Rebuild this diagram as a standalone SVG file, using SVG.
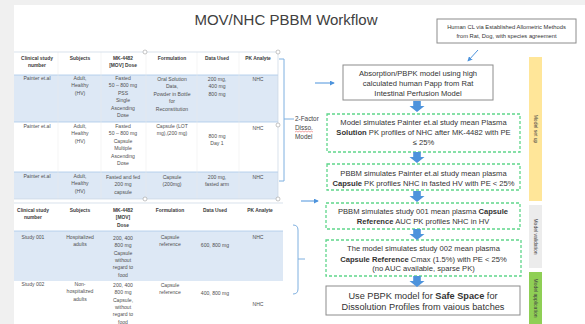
<svg xmlns="http://www.w3.org/2000/svg" width="585" height="324" viewBox="0 0 585 324">
  <style>
    text { font-family: "Liberation Sans", "Noto Sans", Arial, sans-serif; fill: #3a3a3a; }
    .title { font-size: 15px; fill: #404040; }
    .th { font-size: 4.9px; font-weight: bold; text-anchor: middle; fill: #3a3a3a; }
    .td { font-size: 5.1px; text-anchor: middle; fill: #505050; }
    .bx { font-size: 7.6px; text-anchor: middle; fill: #333; }
    .big { font-size: 9.2px; text-anchor: middle; fill: #333; }
    .note { font-size: 5.8px; text-anchor: middle; fill: #333; }
    .side { font-size: 5px; text-anchor: middle; fill: #444; }
    .lbl { font-size: 6.4px; fill: #444; }
    .b { font-weight: bold; }
    .solid { fill: #fff; stroke: #8c8c8c; stroke-width: 1; }
    .dash { fill: #fff; stroke: #5fd68a; stroke-width: 1.3; stroke-dasharray: 3 2; }
    .rowfill { fill: #dde8f5; }
    .rule { stroke: #a9c8e8; stroke-width: 0.8; fill: none; }
    .vrule { stroke: #e8e8e8; stroke-width: 0.5; }
    .frame { stroke: #c8d6e4; stroke-width: 0.7; fill: none; }
    .handle { fill: #fff; stroke: #a0a0a0; stroke-width: 0.6; }
    .bracket { stroke: #7fb0e0; stroke-width: 1; fill: none; }
    .blk { fill: #4d93dc; }
    .thin { stroke: #4d93dc; stroke-width: 1; fill: none; marker-end: url(#head); }
  </style>
  <defs>
    <marker id="head" viewBox="0 0 6 6" refX="5" refY="3" markerWidth="5" markerHeight="5" orient="auto">
      <path d="M0,0 L6,3 L0,6 Z" fill="#4d93dc"/>
    </marker>
    <path id="down" d="M-3.8,0 H3.8 V5 H7.5 L0,11 L-7.5,5 H-3.8 Z"/>
  </defs>

  <!-- page background -->
  <rect x="0" y="0" width="585" height="324" fill="#f0f0f0"/>
  <rect x="14" y="5" width="571" height="319" fill="#ffffff"/>

  <text class="title" x="286" y="25" text-anchor="middle">MOV/NHC PBBM Workflow</text>

  <!-- upper study table -->
  <g id="table-painter">
    <rect class="rowfill" x="14" y="75" width="264" height="47"/>
    <rect class="rowfill" x="14" y="172" width="264" height="27"/>
    <line class="rule" x1="14" y1="75" x2="278" y2="75"/>
    <line class="rule" x1="14" y1="122" x2="278" y2="122"/>
    <line class="rule" x1="14" y1="172" x2="278" y2="172"/>
    <g class="vrule">
      <line x1="58" y1="52" x2="58" y2="199"/>
      <line x1="101" y1="52" x2="101" y2="199"/>
      <line x1="146" y1="52" x2="146" y2="199"/>
      <line x1="197" y1="52" x2="197" y2="199"/>
      <line x1="239" y1="52" x2="239" y2="199"/>
    </g>
    <line class="frame" x1="14" y1="52" x2="278" y2="52"/>
    <line class="frame" x1="14" y1="199" x2="278" y2="199"/>
    <line class="frame" x1="278" y1="52" x2="278" y2="199"/>
    <circle class="handle" cx="145" cy="52" r="2"/>
    <circle class="handle" cx="278" cy="52" r="2"/>
    <circle class="handle" cx="278" cy="125" r="2"/>
    <circle class="handle" cx="278" cy="199" r="2"/>
    <circle class="handle" cx="145" cy="199" r="2"/>

    <text class="th" x="37" y="60">Clinical study<tspan x="37" dy="6.5">number</tspan></text>
    <text class="th" x="80" y="60">Subjects</text>
    <text class="th" x="123" y="60">MK-4482<tspan x="123" dy="6.5">[MOV] Dose</tspan></text>
    <text class="th" x="172" y="60">Formulation</text>
    <text class="th" x="217" y="60">Data Used</text>
    <text class="th" x="258" y="60">PK Analyte</text>

    <text class="td" x="37" y="80">Painter et.al</text>
    <text class="td" x="80" y="80">Adult,<tspan x="80" dy="7.4">Healthy</tspan><tspan x="80" dy="7.4">(HV)</tspan></text>
    <text class="td" x="123" y="80">Fasted<tspan x="123" dy="7.4">50 – 800 mg</tspan><tspan x="123" dy="7.4">PSS</tspan><tspan x="123" dy="7.4">Single</tspan><tspan x="123" dy="7.4">Ascending</tspan><tspan x="123" dy="7.4">Dose</tspan></text>
    <text class="td" x="172" y="81">Oral Solution<tspan x="172" dy="7.4">Data,</tspan><tspan x="172" dy="7.4">Powder in Bottle</tspan><tspan x="172" dy="7.4">for</tspan><tspan x="172" dy="7.4">Reconstitution</tspan></text>
    <text class="td" x="217" y="81">200 mg,<tspan x="217" dy="7.4">400 mg</tspan><tspan x="217" dy="7.4">800 mg</tspan></text>
    <text class="td" x="258" y="81">NHC</text>

    <text class="td" x="37" y="128">Painter et.al</text>
    <text class="td" x="80" y="128">Adult,<tspan x="80" dy="7.4">Healthy</tspan><tspan x="80" dy="7.4">(HV)</tspan></text>
    <text class="td" x="123" y="128">Fasted<tspan x="123" dy="7.4">50 – 800 mg</tspan><tspan x="123" dy="7.4">Capsule</tspan><tspan x="123" dy="7.4">Multiple</tspan><tspan x="123" dy="7.4">Ascending</tspan><tspan x="123" dy="7.4">Dose</tspan></text>
    <text class="td" x="172" y="128">Capsule (LOT<tspan x="172" dy="7.4">mg),(200 mg)</tspan></text>
    <text class="td" x="217" y="138">800 mg<tspan x="217" dy="7.4">Day 1</tspan></text>
    <text class="td" x="258" y="130">NHC</text>

    <text class="td" x="37" y="178">Painter et.al</text>
    <text class="td" x="80" y="178">Adult,<tspan x="80" dy="7.4">Healthy</tspan><tspan x="80" dy="7.4">(HV)</tspan></text>
    <text class="td" x="123" y="179">Fasted and fed<tspan x="123" dy="7.4">200 mg</tspan><tspan x="123" dy="7.4">capsule</tspan></text>
    <text class="td" x="172" y="179">Capsule<tspan x="172" dy="7.4">(200mg)</tspan></text>
    <text class="td" x="217" y="179">200 mg,<tspan x="217" dy="7.4">fasted arm</tspan></text>
    <text class="td" x="258" y="179">NHC</text>
  </g>

  <!-- lower study table -->
  <g id="table-studies">
    <line class="frame" x1="14" y1="203" x2="283" y2="203"/>
    <rect class="rowfill" x="14" y="231" width="269" height="50"/>
    <line class="rule" x1="14" y1="231" x2="283" y2="231"/>

    <text class="th" x="33" y="212">Clinical study<tspan x="33" dy="7.3">number</tspan></text>
    <text class="th" x="80" y="212">Subjects</text>
    <text class="th" x="123" y="212">MK-4482<tspan x="123" dy="7.3">[MOV]</tspan><tspan x="123" dy="7.3">Dose</tspan></text>
    <text class="th" x="170" y="212">Formulation</text>
    <text class="th" x="215" y="212">Data Used</text>
    <text class="th" x="260" y="212">PK Analyte</text>

    <text class="td" x="33" y="239">Study 001</text>
    <text class="td" x="80" y="239">Hospitalized<tspan x="80" dy="7.3">adults</tspan></text>
    <text class="td" x="123" y="240">200, 400<tspan x="123" dy="7.3">800 mg</tspan><tspan x="123" dy="7.3">Capsule</tspan><tspan x="123" dy="7.3">without</tspan><tspan x="123" dy="7.3">regard to</tspan><tspan x="123" dy="7.3">food</tspan></text>
    <text class="td" x="170" y="239">Capsule<tspan x="170" dy="7.3">reference</tspan></text>
    <text class="td" x="215" y="247">600, 800 mg</text>
    <text class="td" x="258" y="239">NHC</text>

    <text class="td" x="33" y="286">Study 002</text>
    <text class="td" x="80" y="286">Non-<tspan x="80" dy="7.3">hospitalized</tspan><tspan x="80" dy="7.3">adults</tspan></text>
    <text class="td" x="123" y="287">200, 400<tspan x="123" dy="7.3">800 mg</tspan><tspan x="123" dy="7.3">Capsule,</tspan><tspan x="123" dy="7.3">without</tspan><tspan x="123" dy="7.3">regard to</tspan><tspan x="123" dy="7.3">food</tspan></text>
    <text class="td" x="170" y="287">Capsule<tspan x="170" dy="7.3">reference</tspan></text>
    <text class="td" x="215" y="295">400, 800 mg</text>
    <text class="td" x="258" y="306">NHC</text>
  </g>

  <!-- side note: 2-factor dissolution model -->
  <g id="disso-label">
    <text class="lbl" x="295" y="121">2-Factor</text>
    <text class="lbl" x="295" y="130">Disso.</text>
    <path d="M295,132 l1.5,-0.8 l1.5,0.8 l1.5,-0.8 l1.5,0.8 l1.5,-0.8 l1.5,0.8 l1.5,-0.8 l1.5,0.8 l1.5,-0.8 l1.5,0.8 l1.5,-0.8 l1.5,0.8" fill="none" stroke="#e04040" stroke-width="0.5"/>
    <text class="lbl" x="295" y="139">Model</text>
  </g>

  <!-- allometric note -->
  <g id="allometric-note">
    <rect class="solid" x="437" y="19" width="139" height="24" stroke-width="0.8"/>
    <text class="note" x="506.5" y="29">Human CL via Established Allometric Methods</text>
    <text class="note" x="506.5" y="37.5">from Rat, Dog, with species agreement</text>
  </g>

  <!-- workflow steps -->
  <g id="step-absorption">
    <rect class="solid" x="343" y="65" width="150" height="35"/>
    <text class="bx" x="418" y="75.5">Absorption/PBPK model using high</text>
    <text class="bx" x="418" y="85.5">calculated human Papp from Rat</text>
    <text class="bx" x="418" y="95.5">Intestinal Perfusion Model</text>
  </g>
  <g id="step-solution">
    <rect class="dash" x="327" y="114" width="193" height="38"/>
    <text class="bx" x="423.5" y="124.5">Model simulates Painter et.al  study mean Plasma</text>
    <text class="bx" x="423.5" y="134.5"><tspan class="b">Solution</tspan> PK profiles of NHC  after MK-4482 with PE</text>
    <text class="bx" x="423.5" y="144.5">≤ 25%</text>
  </g>
  <g id="step-capsule">
    <rect class="dash" x="327" y="164" width="193" height="26"/>
    <text class="bx" x="423.5" y="175.5">PBBM simulates Painter et.al  study mean plasma</text>
    <text class="bx" x="423.5" y="185.5"><tspan class="b">Capsule</tspan> PK profiles NHC in fasted HV with PE &lt; 25%</text>
  </g>
  <g id="step-study001">
    <rect class="dash" x="326" y="203" width="194" height="26"/>
    <text class="bx" x="423" y="213.5">PBBM simulates study 001 mean plasma <tspan class="b">Capsule</tspan></text>
    <text class="bx" x="423" y="223.5"><tspan class="b">Reference</tspan> AUC PK profiles NHC in HV</text>
  </g>
  <g id="step-study002">
    <rect class="dash" x="326" y="240" width="195" height="36"/>
    <text class="bx" x="423.5" y="251">The model simulates study 002 mean plasma</text>
    <text class="bx" x="423.5" y="261.5"><tspan class="b">Capsule Reference</tspan> Cmax (1.5%) with PE &lt; 25%</text>
    <text class="bx" x="423.5" y="270.5" font-size="5.4">(no AUC available, sparse PK)</text>
  </g>
  <g id="step-safe-space">
    <rect class="solid" x="326" y="286" width="194" height="29"/>
    <text class="big" x="423" y="299">Use PBPK model for <tspan class="b">Safe Space</tspan> for</text>
    <text class="big" x="423" y="310">Dissolution Profiles from vaious batches</text>
  </g>

  <!-- phase bars -->
  <g id="phase-setup">
    <rect x="529" y="57" width="13" height="144" fill="#ffe699"/>
    <text class="side" transform="translate(535.5,129) rotate(90)" y="1.7">Model set up</text>
  </g>
  <g id="phase-validation">
    <rect x="529" y="205" width="13" height="63" fill="#ececec"/>
    <text class="side" transform="translate(535.5,236.5) rotate(90)" y="1.7">Model validation</text>
  </g>
  <g id="phase-application">
    <rect x="529" y="272" width="13" height="52" fill="#8fcf55"/>
    <text class="side" transform="translate(535.5,298) rotate(90)" y="1.7">Model application</text>
  </g>

  <!-- connectors -->
  <g id="connectors">
    <path class="bracket" d="M279,59 H284 V181 H279"/>
    <path class="bracket" d="M284,119 H294"/>
    <path class="bracket" d="M293,225 Q298,225 298,230 V289 Q298,294 293,294"/>
    <path class="bracket" d="M298,259 H305"/>
    <line class="thin" x1="315" y1="83" x2="334" y2="83"/>
    <line class="thin" x1="301" y1="201" x2="318" y2="201"/>
    <line class="thin" x1="478" y1="50" x2="468" y2="61"/>
    <g class="blk">
      <use href="#down" x="417" y="101"/>
      <use href="#down" x="417" y="152"/>
      <use href="#down" x="417" y="191"/>
      <use href="#down" x="417" y="229"/>
      <use href="#down" x="417" y="276"/>
    </g>
  </g>
</svg>
